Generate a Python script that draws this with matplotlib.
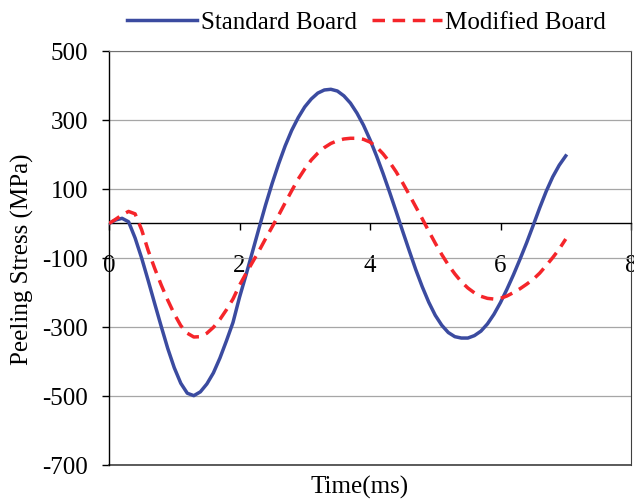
import numpy as np
import matplotlib
matplotlib.use('Agg')
import matplotlib.pyplot as plt
from matplotlib.lines import Line2D

plt.rcParams['font.family'] = ['Liberation Serif', 'DejaVu Serif']
plt.rcParams['axes.unicode_minus'] = False

# time axis, ms (0 to 7 in 0.1 steps)
time_ms = [round(0.1 * i, 1) for i in range(71)]

standard = [0, 10, 15, 5, -42, -100, -165, -232, -298, -362,
            -418, -463, -492, -499, -488, -465, -433, -390, -340, -287,
            -214, -149, -81, -13, 54, 116, 173, 225, 270, 307,
            338, 361, 378, 387, 389, 384, 370, 349, 320, 285,
            243, 196, 145, 91, 35, -22, -78, -133, -183, -228,
            -266, -295, -316, -328, -332, -332, -325, -312, -291, -263,
            -229, -190, -148, -103, -56, -6, 45, 93, 135, 169,
            196]

modified = [0, 12, 25, 35, 28, -18, -78, -130, -178, -222,
            -262, -296, -318, -329, -328, -318, -301, -278, -250, -219,
            -179, -145, -112, -79, -44, -10, 24, 60, 95, 129,
            158, 184, 204, 220, 232, 240, 245, 247, 247, 244,
            236, 222, 202, 178, 150, 118, 84, 49, 14, -22,
            -57, -90, -120, -146, -169, -187, -201, -211, -217, -219,
            -217, -210, -200, -189, -176, -162, -144, -122, -99, -74,
            -45]

yticks = [-700, -500, -300, -100, 100, 300, 500]
xticks = [0, 2, 4, 6, 8]

blue = '#3b4ba0'
red = '#f5252a'
fs = 18

fig = plt.figure(figsize=(6.34, 5.02), dpi=100)
ax = fig.add_axes([109 / 634., 1 - 466 / 502., 522 / 634., 414 / 502.])

ax.set_xlim(0, 8)
ax.set_ylim(-700, 500)
ax.set_yticks(yticks)
ax.set_xticks(xticks)
ax.yaxis.grid(True, color='#a6a6a6', lw=0.9)
ax.set_axisbelow(True)

# x axis crosses at zero, frame drawn round the plot area
ax.spines['bottom'].set_position(('data', 0))
ax.spines['bottom'].set_color('black')
ax.spines['bottom'].set_linewidth(1.0)
ax.spines['left'].set_color('black')
ax.spines['left'].set_linewidth(1.0)
ax.spines['top'].set_color('#707070')
ax.spines['right'].set_color('#404040')
ax.axhline(-700, color='#404040', lw=1.2, clip_on=False, zorder=2.5)

ax.tick_params(axis='y', direction='out', length=5, width=1, pad=10, labelsize=fs)
ax.tick_params(axis='x', direction='out', length=5, width=1, pad=17, labelsize=fs)

ax.plot(time_ms, standard, color=blue, lw=2.5, zorder=3)
ax.plot(time_ms, modified, color=red, lw=2.5, dashes=(3.6, 2.2), zorder=3)

ax.set_ylabel('Peeling Stress (MPa)', fontsize=fs, labelpad=6)
ax.set_xlabel('Time(ms)', fontsize=fs, labelpad=0)
ax.xaxis.set_label_coords(0.48, -0.025)

handles = [Line2D([], [], color=blue, lw=2.5),
           Line2D([], [], color=red, lw=2.5, dashes=(3.6, 2.2))]
fig.legend(handles, ['Standard Board', 'Modified Board'], loc='center',
           bbox_to_anchor=(0.578, 0.954), ncol=2, frameon=False, fontsize=fs,
           handlelength=2.8, handletextpad=0.15, columnspacing=0.6)

fig.savefig('out.png', dpi=100)
